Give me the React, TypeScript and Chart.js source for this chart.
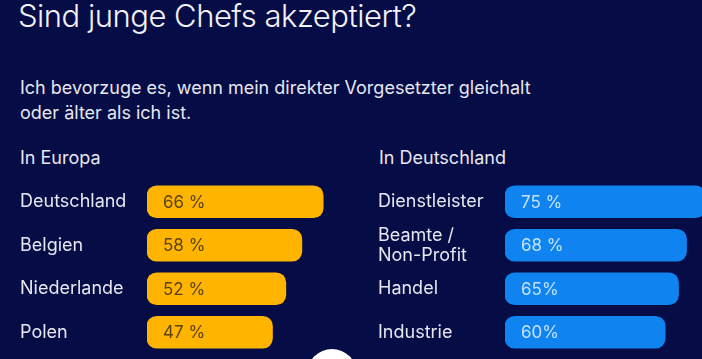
import React, { useEffect, useRef } from "react";
import { Chart, registerables } from "chart.js";

Chart.register(...registerables);

const europeCategories: (string | string[])[] = ["Deutschland", "Belgien", "Niederlande", "Polen"];
const europeValues = [66, 58, 52, 47];
const europeValueLabels = ["66 %", "58 %", "52 %", "47 %"];

const germanyCategories: (string | string[])[] = ["Dienstleister", ["Beamte /", "Non-Profit"], "Handel", "Industrie"];
const germanyValues = [75, 68, 65, 60];
const germanyValueLabels = ["75 %", "68 %", "65%", "60%"];

const BG = "#060c46";
const TEXT = "#e6e7ef";
const FONT = "Inter, Roboto, 'Noto Sans', sans-serif";

const valueLabelPlugin = {
  id: "valueLabels",
  afterDatasetsDraw(chart: any) {
    const ctx = chart.ctx;
    const opts = chart.options.plugins.valueLabels || {};
    const labels: string[] = opts.labels || [];
    const meta = chart.getDatasetMeta(0);
    ctx.save();
    ctx.font = `17px ${FONT}`;
    ctx.fillStyle = opts.color || "#000";
    ctx.textAlign = "left";
    ctx.textBaseline = "middle";
    meta.data.forEach((bar: any, i: number) => {
      ctx.fillText(labels[i], bar.base + 16, bar.y + 1);
    });
    ctx.restore();
  },
};

function BarPanel(props: {
  categories: (string | string[])[];
  values: number[];
  valueLabels: string[];
  color: string;
  labelColor: string;
  padLeft: number;
}) {
  const ref = useRef<HTMLCanvasElement | null>(null);
  useEffect(() => {
    if (!ref.current) return;
    const chart = new Chart(ref.current, {
      type: "bar",
      data: {
        labels: props.categories,
        datasets: [
          {
            data: props.values,
            backgroundColor: props.color,
            borderRadius: 10,
            borderSkipped: false,
            barThickness: 32,
          },
        ],
      },
      options: {
        indexAxis: "y",
        responsive: false,
        animation: false,
        layout: { padding: { left: props.padLeft, right: 0, top: 0, bottom: 0 } },
        plugins: {
          legend: { display: false },
          tooltip: { enabled: false },
          valueLabels: { labels: props.valueLabels, color: props.labelColor },
        } as any,
        scales: {
          x: { display: false, min: 0, max: 100 },
          y: {
            grid: { display: false, drawTicks: false },
            border: { display: false },
            ticks: {
              crossAlign: "far",
              padding: 0,
              color: TEXT,
              font: { family: FONT, size: 18, lineHeight: 1.1 },
            },
            afterFit(scale: any) {
              scale.width = 127;
              scale.paddingTop = 0;
              scale.paddingBottom = 0;
            },
          },
        },
      },
      plugins: [valueLabelPlugin],
    } as any);
    return () => chart.destroy();
  }, []);
  return <canvas ref={ref} width={props.padLeft + 127 + 267} height={174} />;
}

export default function App() {
  const text = (style: React.CSSProperties, content: React.ReactNode) => (
    <div style={{ position: "absolute", color: TEXT, fontFamily: FONT, whiteSpace: "nowrap", ...style }}>{content}</div>
  );
  return (
    <div style={{ position: "fixed", left: 0, top: 0, width: 702, height: 359, background: BG, overflow: "hidden" }}>
      {text({ left: 18, top: 0, fontSize: 31, lineHeight: "32px", fontWeight: 300, letterSpacing: "-0.5px", color: "#f2f2f6" }, "Sind junge Chefs akzeptiert?")}
      {text({ left: 20, top: 75, fontSize: 18, lineHeight: "25px" }, (
        <>
          Ich bevorzuge es, wenn mein direkter Vorgesetzter gleichalt
          <br />
          oder älter als ich ist.
        </>
      ))}
      {text({ left: 20, top: 149, fontSize: 18, lineHeight: "18px" }, "In Europa")}
      {text({ left: 379, top: 149, fontSize: 18, lineHeight: "18px" }, "In Deutschland")}
      <div style={{ position: "absolute", left: 0, top: 180 }}>
        <BarPanel
          categories={europeCategories}
          values={europeValues}
          valueLabels={europeValueLabels}
          color="#ffb400"
          labelColor="#5a4310"
          padLeft={20}
        />
      </div>
      <div style={{ position: "absolute", left: 351, top: 180 }}>
        <BarPanel
          categories={germanyCategories}
          values={germanyValues}
          valueLabels={germanyValueLabels}
          color="#0f84f0"
          labelColor="#c4e2ff"
          padLeft={27}
        />
      </div>
      <div
        style={{
          position: "absolute",
          left: 307,
          top: 349,
          width: 50,
          height: 50,
          borderRadius: "50%",
          background: "#ffffff",
        }}
      />
    </div>
  );
}
